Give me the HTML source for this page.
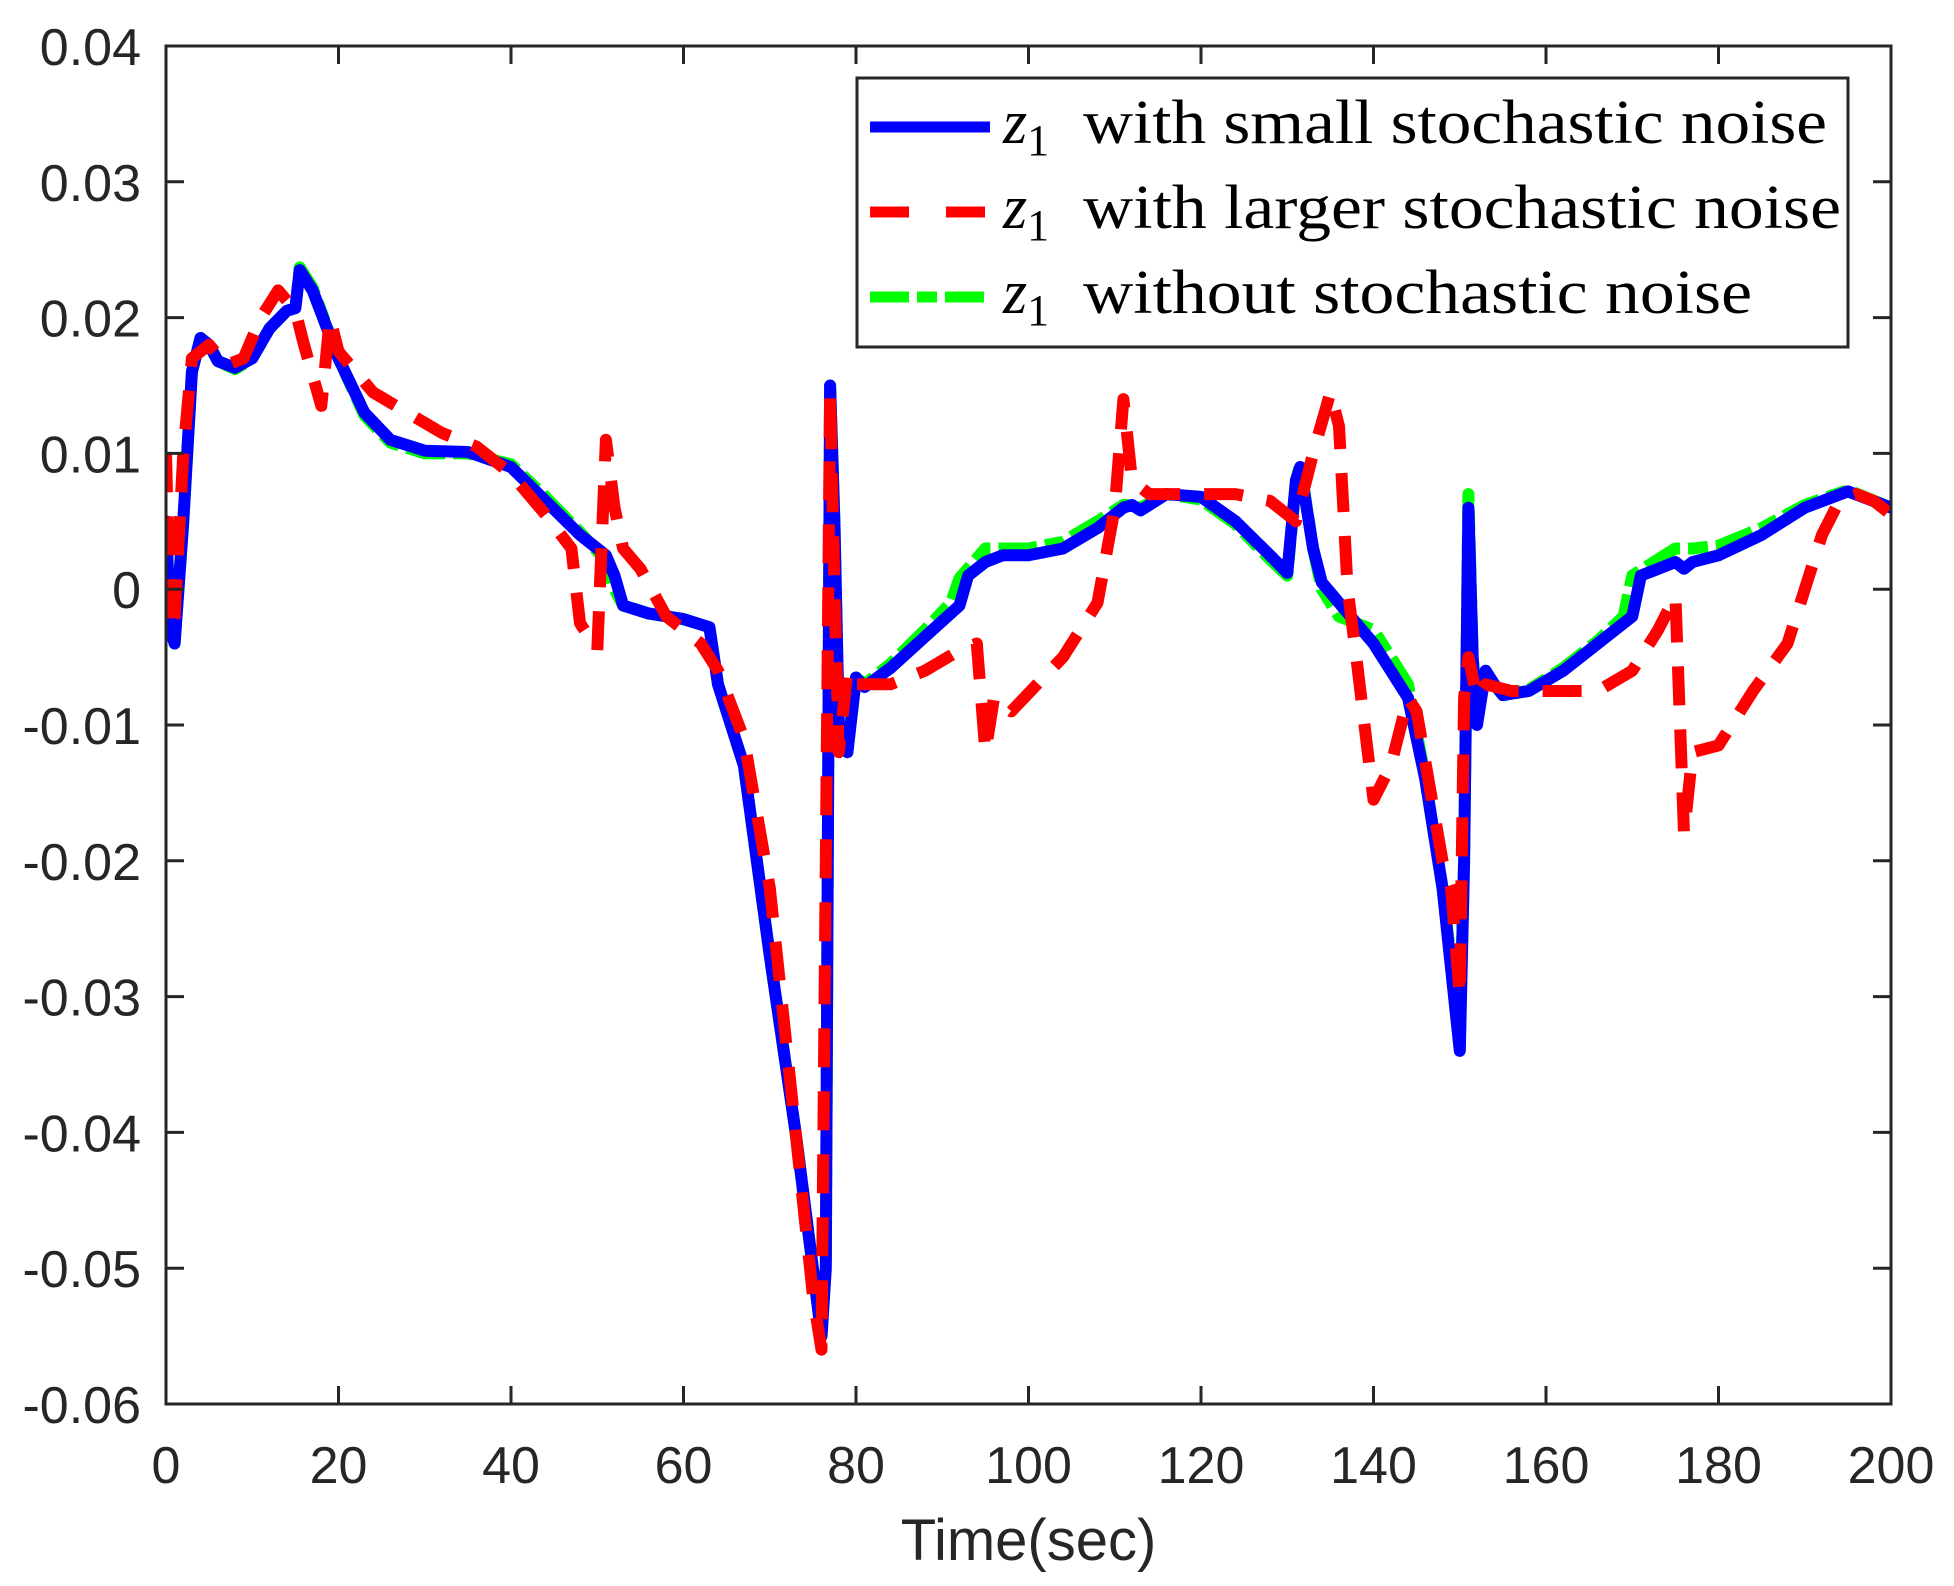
<!DOCTYPE html>
<html><head><meta charset="utf-8"><style>
html,body{margin:0;padding:0;background:#fff;}
svg{display:block;}
</style></head><body>
<svg id="chart" width="1954" height="1586" viewBox="0 0 1954 1586" xmlns="http://www.w3.org/2000/svg">
<rect x="0" y="0" width="1954" height="1586" fill="#fff"/>
<g id="series"></g>
<g id="axes"></g>
<g id="legend">
  <rect x="857" y="78" width="991" height="269" fill="#fff" stroke="#262626" stroke-width="3"/>
  <line x1="870" y1="127" x2="990" y2="127" stroke="#0000ff" stroke-width="11"/>
  <line x1="870" y1="212" x2="990" y2="212" stroke="#ff0000" stroke-width="11" stroke-dasharray="39 37"/>
  <line x1="870" y1="297" x2="990" y2="297" stroke="#00ff00" stroke-width="11" stroke-dasharray="39 8 20 8"/>
  <g font-family="'Liberation Serif', serif" fill="#000">
    <text x="1003" y="143" font-size="62"><tspan font-style="italic">z</tspan><tspan font-size="44" dy="12">1</tspan><tspan dy="-12" x="1083" textLength="744" lengthAdjust="spacingAndGlyphs">with small stochastic noise</tspan></text>
    <text x="1003" y="228" font-size="62"><tspan font-style="italic">z</tspan><tspan font-size="44" dy="12">1</tspan><tspan dy="-12" x="1083" textLength="758" lengthAdjust="spacingAndGlyphs">with larger stochastic noise</tspan></text>
    <text x="1003" y="313" font-size="62"><tspan font-style="italic">z</tspan><tspan font-size="44" dy="12">1</tspan><tspan dy="-12" x="1083" textLength="669" lengthAdjust="spacingAndGlyphs">without stochastic noise</tspan></text>
  </g>
</g>
</svg>
<script>
const xTicks = [0,20,40,60,80,100,120,140,160,180,200];
const yTicks = [0.04,0.03,0.02,0.01,0,-0.01,-0.02,-0.03,-0.04,-0.05,-0.06];
const yTickLabels = ["0.04","0.03","0.02","0.01","0","-0.01","-0.02","-0.03","-0.04","-0.05","-0.06"];
const smallT = [0,0.5,1,2,3,4,5,6,8,10,12,14,15,15.5,17,20,23,26,30,35,40,44,48,50,51,52,53,56,60,63,64,67,70,73,75,76,76.5,77,77.5,78,79,80,81,84,88,92,93,95,97,100,104,108,111,112,113,116,120,124,128,130,131,131.5,133,134,136,140,144,146,148,150,150.5,151,151.5,152,153,154,155,158,162,166,170,171,175,176,177,180,185,190,195,200];
const smallV = [0.005,-0.003,-0.004,0.005,0.016,0.0185,0.018,0.0168,0.0163,0.017,0.0192,0.0205,0.0207,0.0235,0.022,0.017,0.013,0.011,0.0102,0.0101,0.009,0.0065,0.004,0.003,0.0025,0.001,-0.0012,-0.0018,-0.0022,-0.0028,-0.007,-0.013,-0.027,-0.040,-0.050,-0.055,-0.05,0.015,0.005,-0.01,-0.012,-0.0065,-0.0072,-0.0058,-0.0035,-0.0012,0.001,0.002,0.0025,0.0025,0.003,0.0045,0.006,0.0062,0.0058,0.007,0.0068,0.005,0.0025,0.0012,0.008,0.009,0.003,0.0005,-0.001,-0.004,-0.008,-0.014,-0.022,-0.034,-0.02,0.006,-0.005,-0.01,-0.006,-0.007,-0.0078,-0.0075,-0.006,-0.004,-0.002,0.001,0.002,0.0015,0.002,0.0025,0.004,0.006,0.0072,0.006];
const noneT = [0,0.5,1,2,3,4,5,6,8,10,12,14,15,15.5,17,20,23,26,30,35,40,44,48,50,51,52,53,56,60,63,64,67,70,73,75,76,76.5,77,77.5,78,79,80,81,84,88,91,92,95,97,100,104,108,111,112,113,116,120,124,128,130,131,131.5,133,134,136,140,144,146,148,150,150.5,151,151.5,152,153,154,155,158,162,166,169,170,175,177,180,185,190,195,200];
const noneV = [0.005,-0.003,-0.004,0.005,0.016,0.0185,0.018,0.0168,0.0162,0.017,0.0192,0.0205,0.0207,0.0237,0.0222,0.017,0.0128,0.0108,0.01,0.01,0.0092,0.0068,0.0042,0.0028,0.002,0.0,-0.0012,-0.0018,-0.0022,-0.0028,-0.007,-0.013,-0.027,-0.040,-0.050,-0.055,-0.05,0.015,0.005,-0.01,-0.012,-0.0065,-0.007,-0.0055,-0.003,-0.001,0.0008,0.003,0.003,0.003,0.0035,0.005,0.0062,0.0062,0.006,0.007,0.0066,0.0048,0.0022,0.001,0.008,0.0092,0.003,0.0,-0.002,-0.003,-0.007,-0.014,-0.022,-0.033,-0.02,0.007,-0.005,-0.009,-0.006,-0.007,-0.0078,-0.0074,-0.0058,-0.0038,-0.002,0.001,0.003,0.003,0.0032,0.0045,0.0062,0.0073,0.006];
const largeT = [0,0.5,1,2,3,5,7,9,11,13,15,16,18,19,20,24,28,32,36,40,44,47,48,50,51,52,53,55,58,62,64,67,70,73,75,76,76.5,77,77.5,78,79,80,84,88,92,94,95,96,98,101,104,108,110,111,112,114,118,124,128,131,133,135,136,137,138,140,142,144,145,148,149,150,150.5,151,152,153,156,160,166,170,173,175,176,177,180,184,188,190,192,194,196,198,200];
const largeV = [0.01,-0.003,-0.002,0.01,0.017,0.018,0.0165,0.017,0.020,0.022,0.0205,0.018,0.0135,0.02,0.0175,0.0145,0.013,0.0115,0.0105,0.0085,0.0055,0.003,-0.0025,-0.0045,0.011,0.006,0.003,0.0015,-0.002,-0.004,-0.006,-0.011,-0.022,-0.040,-0.052,-0.056,-0.02,0.0145,0.0,-0.012,-0.006,-0.007,-0.007,-0.006,-0.0045,-0.004,-0.012,-0.008,-0.009,-0.007,-0.005,-0.001,0.006,0.014,0.008,0.007,0.007,0.007,0.0065,0.005,0.01,0.0145,0.012,0.0,-0.005,-0.0155,-0.013,-0.008,-0.009,-0.02,-0.022,-0.03,-0.008,-0.005,-0.008,-0.007,-0.0075,-0.0075,-0.0075,-0.006,-0.003,-0.0005,-0.018,-0.012,-0.0115,-0.0075,-0.004,0.0,0.004,0.0065,0.007,0.0065,0.0055];

const X0=166, X1=1891, YT=46, YB=1404;
function xs(t){return X0+(t-0)/(200-0)*(X1-X0);}
function ys(v){return YT+(0.04-v)/(0.04-(-0.06))*(YB-YT);}
const NS='http://www.w3.org/2000/svg';
const series=document.getElementById('series');
const axes=document.getElementById('axes');
function mk(tag,attrs,parent){const e=document.createElementNS(NS,tag);for(const k in attrs)e.setAttribute(k,attrs[k]);parent.appendChild(e);return e;}
function pathD(T,V){return T.map((t,i)=>(i?'L':'M')+xs(t).toFixed(1)+' '+ys(V[i]).toFixed(1)).join(' ');}

const clip=mk('clipPath',{id:'pc'},series);
mk('rect',{x:X0,y:YT,width:X1-X0,height:YB-YT},clip);
const g=mk('g',{'clip-path':'url(#pc)'},series);
const pG=mk('path',{d:pathD(noneT,noneV),fill:'none',stroke:'#00ff00','stroke-width':12,'stroke-dasharray':'39 8 20 8','stroke-linejoin':'round'},g);


const pB=mk('path',{d:pathD(smallT,smallV),fill:'none',stroke:'#0000ff','stroke-width':12,'stroke-linejoin':'round','stroke-linecap':'round'},g);


const pR=mk('path',{d:pathD(largeT,largeV),fill:'none',stroke:'#ff0000','stroke-width':12,'stroke-dasharray':'39 24','stroke-linejoin':'round'},g);



const frame=mk('rect',{x:X0,y:YT,width:X1-X0,height:YB-YT,fill:'none',stroke:'#262626','stroke-width':3},axes);


xTicks.forEach(t=>{
  const x=xs(t);
  mk('line',{x1:x,y1:YB,x2:x,y2:YB-18,stroke:'#262626','stroke-width':3},axes);
  mk('line',{x1:x,y1:YT,x2:x,y2:YT+18,stroke:'#262626','stroke-width':3},axes);
  const tx=mk('text',{x:x,y:1483,'text-anchor':'middle','font-family':'Liberation Sans, sans-serif','font-size':52,fill:'#262626'},axes);
  tx.textContent=String(t);
  
  
});
yTicks.forEach((v,i)=>{
  const y=ys(v);
  mk('line',{x1:X0,y1:y,x2:X0+18,y2:y,stroke:'#262626','stroke-width':3},axes);
  mk('line',{x1:X1,y1:y,x2:X1-18,y2:y,stroke:'#262626','stroke-width':3},axes);
  const tx=mk('text',{x:141,y:y+19,'text-anchor':'end','font-family':'Liberation Sans, sans-serif','font-size':52,fill:'#262626'},axes);
  tx.textContent=yTickLabels[i];
  
  
});
const xt=mk('text',{x:(X0+X1)/2,y:1560,'text-anchor':'middle','font-family':'Liberation Sans, sans-serif','font-size':58,fill:'#262626'},axes);
xt.textContent='Time(sec)';


</script>
</body></html>
